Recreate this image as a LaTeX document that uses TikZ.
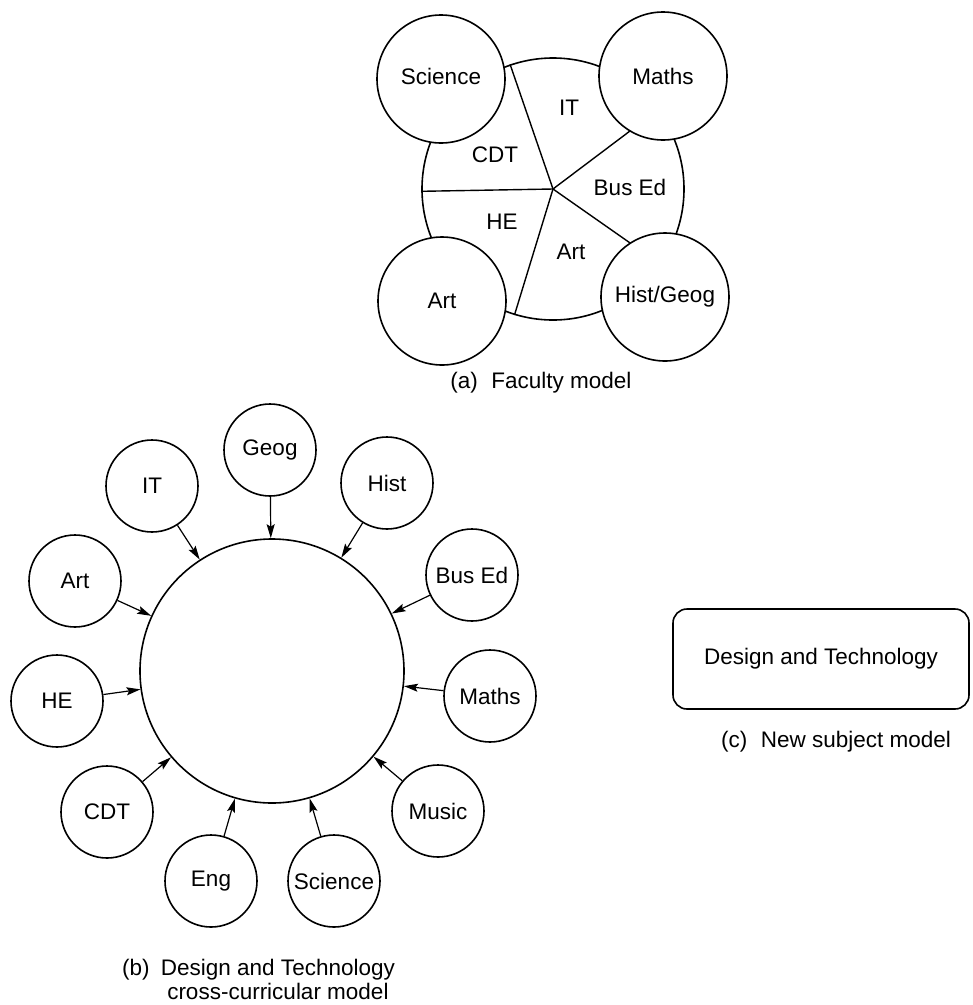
\documentclass[tikz,border=0pt]{standalone}
\usepackage{fontspec}
\setmainfont{Liberation Sans}
\usetikzlibrary{arrows.meta}
\begin{document}
\begin{tikzpicture}[x=1pt,y=1pt,
  every node/.style={font=\fontsize{22.5}{23.5}\selectfont},
  ring/.style={circle,draw,line width=1.6pt,inner sep=0pt},
  hubcircle/.style={ring,minimum size=262pt},
  corner/.style={ring,fill=white,minimum size=128pt},
  small/.style={ring,fill=white,minimum size=92pt},
  spoke/.style={line width=1.4pt},
  arr/.style={line width=1.2pt,-{Stealth[length=14pt,width=8pt,inset=2.5pt]}},
  caption/.style={inner sep=0pt}
]
\useasboundingbox (0,0) rectangle (973,-1005);

% ---------- (a) Faculty model ----------
\node[hubcircle] (hub) at (553,-189) {};
\draw[spoke] (hub.center) -- (hub.109);
\draw[spoke] (hub.center) -- (hub.37);
\draw[spoke] (hub.center) -- (hub.181);
\draw[spoke] (hub.center) -- (hub.-35);
\draw[spoke] (hub.center) -- (hub.253);
\node[corner] (fsci) at (441,-79) {\raisebox{6pt}{Science}};
\node[corner] (fmaths) at (663,-76) {Maths};
\node[corner] (fart) at (442,-301) {Art};
\node[corner] (fhist) at (665,-297) {Hist/Geog};
\node (sit) at (569,-108) {IT};
\node (scdt) at (495,-155) {CDT};
\node (sbus) at (630,-187) {Bus Ed};
\node (she) at (502,-222) {HE};
\node (sart) at (571,-252) {Art};
\node[caption] (capa) at (541,-383) {(a)\hspace{0.6em}Faculty model};

% ---------- (b) cross-curricular model ----------
\node[ring,minimum size=264pt] (cc) at (272,-671) {};
\node[small] (geog) at (270,-450) {Geog};
\node[small] (it) at (152,-486) {IT};
\node[small] (hist) at (387,-483) {Hist};
\node[small] (art) at (75,-581) {Art};
\node[small] (bused) at (472,-575) {Bus Ed};
\node[small] (he) at (57,-701) {HE};
\node[small] (maths) at (490,-696) {Maths};
\node[small] (cdt) at (107,-812) {CDT};
\node[small] (music) at (438,-811) {Music};
\node[small] (eng) at (211,-881) {Eng};
\node[small] (sci) at (334,-881) {Science};
\foreach \n in {geog,it,hist,art,bused,he,maths,cdt,music,eng,sci}
  \draw[arr] (\n) -- (cc);
\node[caption,anchor=west] (capb) at (122,-983)
  {\begin{tabular}{@{}l@{\hspace{0.5em}}c@{}}(b) & Design and Technology\\ & cross-curricular model\end{tabular}};

% ---------- (c) New subject model ----------
\node[draw,line width=1.6pt,rounded corners=14pt,minimum width=296pt,minimum height=100pt] (dt) at (821,-659) {Design and Technology};
\node[caption] (capc) at (836,-742) {(c)\hspace{0.6em}New subject model};
\end{tikzpicture}
\end{document}
